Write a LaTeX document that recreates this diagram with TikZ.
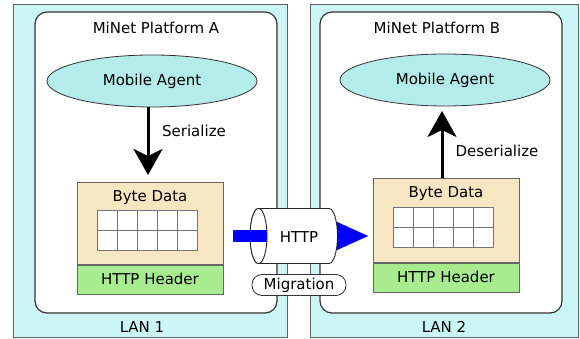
\documentclass[tikz,border=0pt]{standalone}
\usepackage{fontspec}
\setmainfont{DejaVu Sans}
\usetikzlibrary{arrows.meta,shapes.geometric}
\definecolor{lancyan}{RGB}{204,246,246}
\definecolor{agentcyan}{RGB}{180,236,234}
\definecolor{tan}{RGB}{247,230,194}
\definecolor{hgreen}{RGB}{168,236,144}
\definecolor{edgegray}{RGB}{90,100,100}
\tikzset{
  lan/.style={draw=edgegray, line width=1pt, fill=lancyan, inner sep=0pt},
  platform/.style={draw=black!80, line width=1.2pt, fill=white, rounded corners=12pt, inner sep=0pt},
  lbl/.style={font=\fontsize{15}{17}\selectfont, text=black},
  agent/.style={ellipse, draw=black!80, line width=0.8pt, fill=agentcyan, inner sep=0pt, minimum width=210pt, minimum height=52pt, lbl},
  databox/.style={draw=black!60, line width=0.6pt, fill=tan, inner sep=0pt, minimum width=146pt},
  hdrbox/.style={draw=black!60, line width=0.6pt, fill=hgreen, inner sep=0pt, minimum width=146pt, minimum height=29pt, lbl},
  cell/.style={draw=black!55, line width=0.6pt, fill=white, minimum width=20pt, minimum height=20pt, inner sep=0pt},
  bigarrow/.style={line width=3pt, -{Stealth[length=26pt,width=29pt,inset=7pt]}},
}
\begin{document}
\begin{tikzpicture}[x=1pt,y=-1pt]
\useasboundingbox (0,0) rectangle (580,339);
% LAN boxes
\node[lan, minimum width=274pt, minimum height=332pt] (lan1) at (150,171) {};
\node[lan, minimum width=268pt, minimum height=332pt] (lan2) at (444,171) {};
\node[lbl] (lan1t) at (142,327) {LAN 1};
\node[lbl] (lan2t) at (444,327) {LAN 2};
% platforms
\node[platform, minimum width=242pt, minimum height=301pt] (platA) at (156,162.5) {};
\node[platform, minimum width=242pt, minimum height=301pt] (platB) at (441,162.5) {};
\node[lbl] (titA) at (156,28) {MiNet Platform A};
\node[lbl] (titB) at (437,28) {MiNet Platform B};
% agents
\node[agent] (agA) at (152,81) {Mobile Agent};
\node[agent] (agB) at (445,80) {Mobile Agent};
% byte data A
\node[databox, minimum height=82pt, anchor=north] (byteA) at (150,182) {};
\node[lbl, anchor=north] (byteAt) at (byteA.north) [yshift=-5pt] {Byte Data};
\node[hdrbox, anchor=north] (hdrA) at (byteA.south) {HTTP Header};
\foreach \i in {0,...,4}{\foreach \j in {0,1}{
  \node[cell] (cA\i\j) at (107+20*\i,220+20*\j) {};}}
% byte data B
\node[databox, minimum height=84pt, anchor=north] (byteB) at (446,178) {};
\node[lbl, anchor=north] (byteBt) at (byteB.north) [yshift=-5pt] {Byte Data};
\node[hdrbox, anchor=north] (hdrB) at (byteB.south) {HTTP Header};
\foreach \i in {0,...,4}{\foreach \j in {0,1}{
  \node[cell] (cB\i\j) at (403+20*\i,217+20*\j) {};}}
% arrows
\coordinate (serEnd) at (148,175);
\draw[bigarrow] (agA.south -| serEnd) -- (serEnd);
\node[lbl] (serT) at (194,131) {Serialize};
\coordinate (desStart) at (442,178);
\coordinate (desEnd) at (442,111);
\draw[bigarrow] (desStart) -- (desEnd);
\node[lbl] (desT) at (497,151) {Deserialize};
% pipe
\coordinate (pL) at (258.5,236);
\coordinate (pR) at (329,236);
\draw[black!85, line width=0.9pt, fill=white]
  (258.5,208.5) -- (329,208.5) arc[start angle=90, end angle=-90, x radius=8.5pt, y radius=27.5pt]
  -- (258.5,263.5) arc[start angle=270, end angle=90, x radius=8.5pt, y radius=27.5pt] -- cycle;
\draw[black!85, line width=0.9pt, fill=white] (pL) ellipse[x radius=8.5pt, y radius=27.5pt];
\node[lbl] (pipe) at (299,237) {HTTP};
\coordinate (barStart) at (233,236);
\coordinate (barEnd) at (267,236);
\draw[blue, line width=12pt] (barStart) -- (barEnd);
\coordinate (triBase) at (337.5,236);
\coordinate (triTip) at (368,236);
\draw[blue, line width=0.1pt, -{Triangle[length=31pt,width=28pt]}] (triBase) -- (triTip);
% migration
\node[draw=black!80, line width=0.8pt, fill=white, rounded corners=10pt, minimum width=94pt, minimum height=21pt, inner sep=0pt, lbl] (mig) at (299,285) {Migration};
\end{tikzpicture}
\end{document}
